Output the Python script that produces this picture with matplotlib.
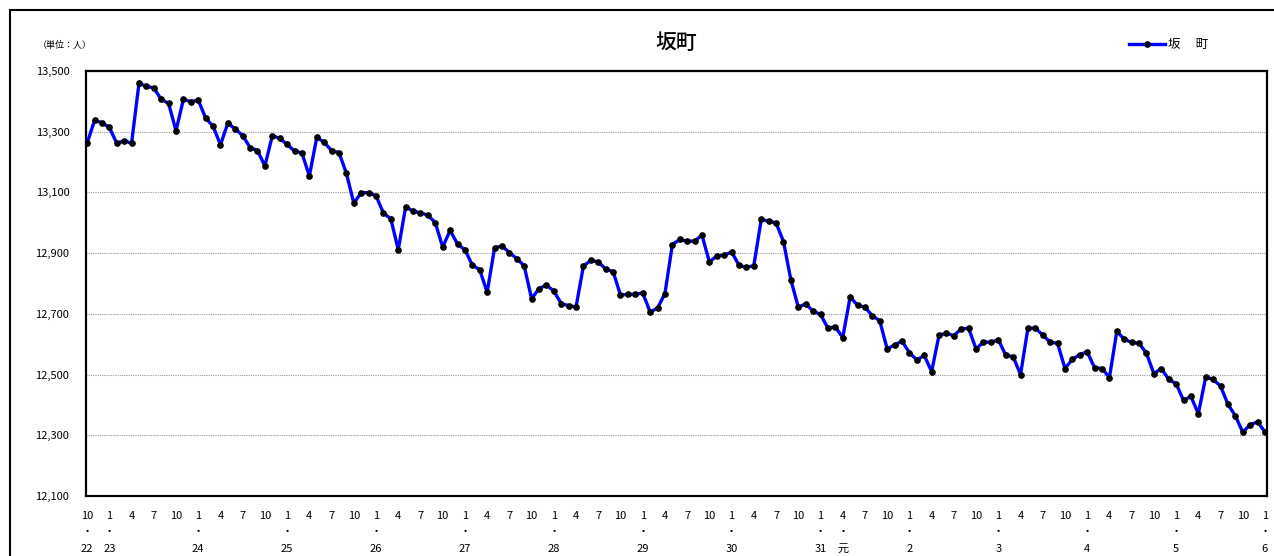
import numpy as np
import matplotlib
matplotlib.use("Agg")
import matplotlib.pyplot as plt
from matplotlib.patches import Rectangle
from matplotlib.ticker import FuncFormatter

plt.rcParams['font.family'] = ['Noto Sans CJK JP', 'DejaVu Sans']

# 坂町の人口（月別, 平成22年10月～令和6年1月）
population = [
    13262, 13337, 13330, 13314, 13262, 13270, 13262, 13459, 13450, 13444,
    13407, 13393, 13303, 13407, 13399, 13404, 13345, 13318, 13257, 13328,
    13309, 13287, 13248, 13238, 13187, 13287, 13278, 13258, 13236, 13230,
    13154, 13281, 13265, 13238, 13231, 13163, 13065, 13099, 13099, 13089,
    13032, 13013, 12911, 13053, 13038, 13033, 13025, 13000, 12920, 12975,
    12930, 12911, 12861, 12845, 12771, 12917, 12924, 12902, 12882, 12858,
    12750, 12783, 12795, 12775, 12734, 12727, 12723, 12858, 12876, 12871,
    12848, 12839, 12762, 12764, 12764, 12769, 12706, 12719, 12767, 12928,
    12945, 12939, 12940, 12959, 12871, 12891, 12893, 12904, 12860, 12853,
    12859, 13011, 13005, 13000, 12938, 12812, 12722, 12733, 12709, 12698,
    12653, 12657, 12622, 12756, 12728, 12722, 12694, 12677, 12584, 12598,
    12610, 12572, 12548, 12563, 12510, 12630, 12636, 12628, 12651, 12652,
    12584, 12608, 12606, 12615, 12564, 12559, 12500, 12653, 12653, 12630,
    12607, 12603, 12520, 12550, 12566, 12575, 12522, 12520, 12490, 12643,
    12616, 12606, 12603, 12570, 12503, 12520, 12484, 12470, 12415, 12428,
    12371, 12492, 12484, 12462, 12402, 12364, 12310, 12335, 12344, 12311,
]

# 月ラベル（3か月ごと）と年の表示
months = ['10'] + ['1', '4', '7', '10'] * 13 + ['1']
years = {0: '22', 1: '23', 5: '24', 9: '25', 13: '26', 17: '27', 21: '28',
         25: '29', 29: '30', 33: '31', 34: '元', 37: '2', 41: '3', 45: '4',
         49: '5', 53: '6'}

y_ticks = [12100, 12300, 12500, 12700, 12900, 13100, 13300, 13500]

fig = plt.figure(figsize=(12.74, 5.56), dpi=100)
ax = fig.add_axes([86 / 1274, 60 / 556, 1181 / 1274, 425 / 556])

x = np.arange(len(population))
ax.plot(x, population, color='#0000ff', lw=2.4, marker='o', ms=3.8,
        mfc='black', mec='black', label='坂　 町', zorder=3)

ax.set_xlim(-0.15, len(population) - 1 + 0.27)
ax.set_ylim(y_ticks[0], y_ticks[-1])
ax.set_yticks(y_ticks)
ax.yaxis.set_major_formatter(FuncFormatter(lambda v, p: f'{int(v):,}'))
ax.grid(axis='y', color='#999999', ls=(0, (1, 1)), lw=0.8)

pos = x[::3]
labels = []
for k, m in enumerate(months):
    if k in years:
        labels.append(f'{m}\n・\n{years[k]}')
    else:
        labels.append(m)
ax.set_xticks(pos)
ax.set_xticklabels(labels, linespacing=1.85)
ax.tick_params(axis='x', length=0, pad=10.5, labelsize=8)
ax.tick_params(axis='y', length=0, pad=12, labelsize=8)

for s in ax.spines.values():
    s.set_linewidth(1.6)
    s.set_color('black')

ax.set_title('坂町', fontsize=15, fontweight='medium', pad=16)
fig.text(38 / 1274, 1 - 45 / 556, '（単位：人）', fontsize=6.5, va='center')

ax.legend(loc='upper right', bbox_to_anchor=(1214 / 1274, 1 - 32 / 556),
          bbox_transform=fig.transFigure, frameon=False, fontsize=9,
          handlelength=2.9, handletextpad=0.2, borderpad=0)

# 外枠
fig.patches.append(Rectangle((10 / 1274, -0.05), 1.1, 1 - 10 / 556 + 0.05,
                             transform=fig.transFigure, fill=False,
                             ec='black', lw=1.5))

fig.savefig('out.png', dpi=100)
